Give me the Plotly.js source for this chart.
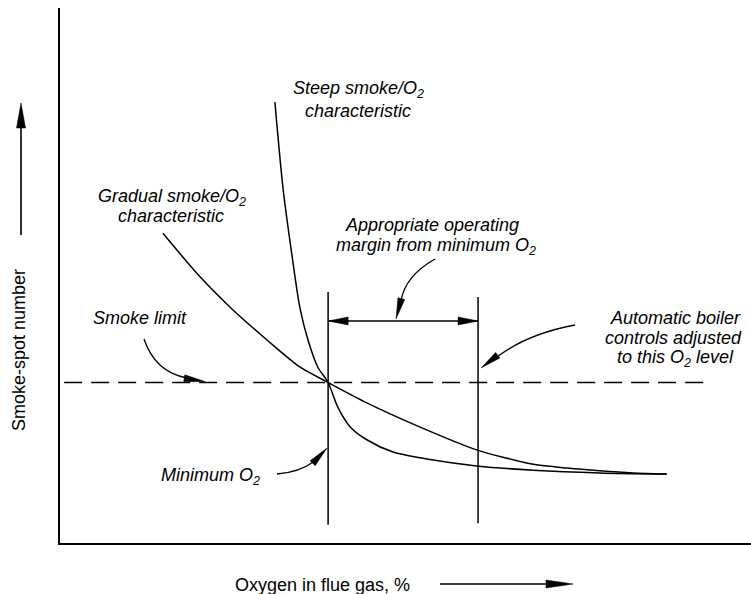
<!DOCTYPE html>
<html>
<head>
<meta charset="utf-8">
<script src="https://cdn.plot.ly/plotly-3.0.1.min.js"></script>
<style>html,body{margin:0;padding:0;background:#fff;}#chart{width:751px;height:594px;}</style>
</head>
<body>
<div id="chart"></div>
<script>
// ---- data (arbitrary schematic units) ----
const steepX = [3.11, 3.23, 3.36, 3.47, 3.59, 3.73, 3.88, 4.02, 4.20, 4.44, 4.82, 5.40, 6.03, 6.85, 7.81, 8.78];
const steepY = [8.24, 6.60, 5.35, 4.41, 3.79, 3.29, 3.00, 2.54, 2.17, 1.93, 1.70, 1.55, 1.44, 1.36, 1.31, 1.29];
const gradualX = [1.49, 2.03, 2.50, 3.00, 3.47, 3.88, 4.44, 5.17, 6.03, 6.45, 6.85, 7.34, 7.81, 8.29, 8.78];
const gradualY = [5.79, 4.97, 4.36, 3.79, 3.29, 3.00, 2.62, 2.19, 1.74, 1.59, 1.47, 1.40, 1.35, 1.31, 1.29];
const smokeLimitY = 3.0;
const smokeLimitX = [0.06, 9.31];
const minO2X = 3.88;
const minO2LineY = [0.34, 4.69];
const operatingO2X = 6.05;
const operatingLineY = [0.37, 4.60];
const marginArrowY = 4.15;

// ---- layout geometry ----
const L = 60, T = 8, W = 691, H = 535;
const XR = [0, 10], YR = [0, 10];
const kx = W / (XR[1] - XR[0]), ky = H / (YR[1] - YR[0]);
const toDx = px => XR[0] + (px - L) / kx;
const toDy = py => YR[0] + (T + H - py) / ky;
const fromDx = x => L + (x - XR[0]) * kx;
const fromDy = y => T + H - (y - YR[0]) * ky;
const toPx = px => (px - L) / W;
const toPy = py => (T + H - py) / H;

function conv(paper) { return paper ? [toPx, toPy] : [toDx, toDy]; }
function headPath(tx, ty, fx, fy, len, wid, paper) {
  const [cx, cy] = conv(paper);
  let ux = tx - fx, uy = ty - fy; const n = Math.hypot(ux, uy); ux /= n; uy /= n;
  const bx = tx - ux * len, by = ty - uy * len;
  const nx = -uy * wid / 2, ny = ux * wid / 2;
  return `M ${cx(tx)},${cy(ty)} L ${cx(bx + nx)},${cy(by + ny)} L ${cx(bx - nx)},${cy(by - ny)} Z`;
}
function head(tx, ty, fx, fy, len, wid, paper) {
  return {type: 'path', path: headPath(tx, ty, fx, fy, len, wid, paper),
    xref: paper ? 'paper' : 'x', yref: paper ? 'paper' : 'y',
    fillcolor: '#000', line: {color: '#000', width: 0.5}, layer: 'above'};
}
function curve(p, paper) {
  const [cx, cy] = conv(paper);
  return {type: 'path',
    path: `M ${cx(p[0])},${cy(p[1])} Q ${cx(p[2])},${cy(p[3])} ${cx(p[4])},${cy(p[5])}`,
    xref: paper ? 'paper' : 'x', yref: paper ? 'paper' : 'y',
    line: {color: '#000', width: 1.3}, layer: 'above'};
}
function seg(x0, y0, x1, y1, paper, w) {
  const [cx, cy] = conv(paper);
  return {type: 'line', x0: cx(x0), y0: cy(y0), x1: cx(x1), y1: cy(y1),
    xref: paper ? 'paper' : 'x', yref: paper ? 'paper' : 'y',
    line: {color: '#000', width: w || 1.5}, layer: 'above'};
}

const blk = {color: '#000', width: 1.5};
const traces = [
  {x: smokeLimitX, y: [smokeLimitY, smokeLimitY], mode: 'lines', line: {color: '#000', width: 1.3, dash: '18px,9px'}, hoverinfo: 'skip'},
  {x: [minO2X, minO2X], y: minO2LineY, mode: 'lines', line: blk, hoverinfo: 'skip'},
  {x: [operatingO2X, operatingO2X], y: operatingLineY, mode: 'lines', line: blk, hoverinfo: 'skip'},
  {x: [minO2X, operatingO2X], y: [marginArrowY, marginArrowY], mode: 'lines', line: blk, hoverinfo: 'skip'},
  {x: steepX, y: steepY, mode: 'lines', line: {color: '#000', width: 1.5, shape: 'spline', smoothing: 0.8}, hoverinfo: 'skip'},
  {x: gradualX, y: gradualY, mode: 'lines', line: {color: '#000', width: 1.5, shape: 'spline', smoothing: 0.8}, hoverinfo: 'skip'}
];

const mx = fromDx(minO2X), ox = fromDx(operatingO2X), ay = fromDy(marginArrowY), sy = fromDy(smokeLimitY);
const shapes = [
  head(mx, ay, mx + 10, ay, 20, 8, false),
  head(ox, ay, ox - 10, ay, 20, 8, false),
  // smoke limit callout
  curve([144, 339, 155, 372, 187, 378], false),
  head(205, sy - 1, 186, sy - 4, 21, 7, false),
  // minimum O2 callout
  curve([277, 474, 300, 472, 313, 462], false),
  head(mx - 1, 448, 310, 466, 21, 7, false),
  // operating margin callout
  curve([435, 259, 405, 276, 401, 301], false),
  head(396, ay - 2, 401, 300, 21, 7, false),
  // automatic boiler callout
  curve([575, 325, 527, 334, 497, 357], false),
  head(ox + 3, 368, 498, 355, 21, 7, false),
  // axis label arrows
  seg(21, 235, 21, 120, true, 1.6),
  head(21, 103, 21, 130, 25, 9, true),
  seg(440, 584, 555, 584, true, 1.6),
  head(573, 584, 540, 584, 27, 8, true)
];

const fam = 'Liberation Sans, Arial, Helvetica, sans-serif';
const fi = {family: fam, size: 18, color: '#000', style: 'italic'};
const fn = {family: fam, size: 18, color: '#000'};
function ann(text, px, py, opts) {
  return Object.assign({text: text, x: toPx(px), y: toPy(py), xref: 'paper', yref: 'paper',
    showarrow: false, xanchor: 'center', yanchor: 'middle', font: fi}, opts || {});
}
const annotations = [
  ann('Steep smoke/O<sub>2</sub>', 358, 90),
  ann('characteristic', 358, 111),
  ann('Gradual smoke/O<sub>2</sub>', 172, 197),
  ann('characteristic', 171, 216),
  ann('Appropriate operating', 432, 225),
  ann('margin from minimum O<sub>2</sub>', 436, 246),
  ann('Smoke limit', 140, 318),
  ann('Automatic boiler', 675, 318),
  ann('controls adjusted', 673, 338),
  ann('to this O<sub>2</sub> level', 675, 358),
  ann('Minimum O<sub>2</sub>', 210, 476),
  ann('Oxygen in flue gas, %', 322, 585, {font: fn}),
  ann('Smoke-spot number', 19, 350, {textangle: -90, font: fn})
];

const layout = {
  width: 751, height: 594,
  margin: {l: L, r: 751 - L - W, t: T, b: 594 - T - H, pad: 0},
  paper_bgcolor: '#fff', plot_bgcolor: '#fff',
  showlegend: false,
  xaxis: {range: XR, showgrid: false, zeroline: false, showticklabels: false, ticks: '',
    showline: true, linecolor: '#000', linewidth: 2, fixedrange: true},
  yaxis: {range: YR, showgrid: false, zeroline: false, showticklabels: false, ticks: '',
    showline: true, linecolor: '#000', linewidth: 2, fixedrange: true},
  shapes: shapes,
  annotations: annotations
};
Plotly.newPlot('chart', traces, layout, {displayModeBar: false, staticPlot: true});
</script>
</body>
</html>
